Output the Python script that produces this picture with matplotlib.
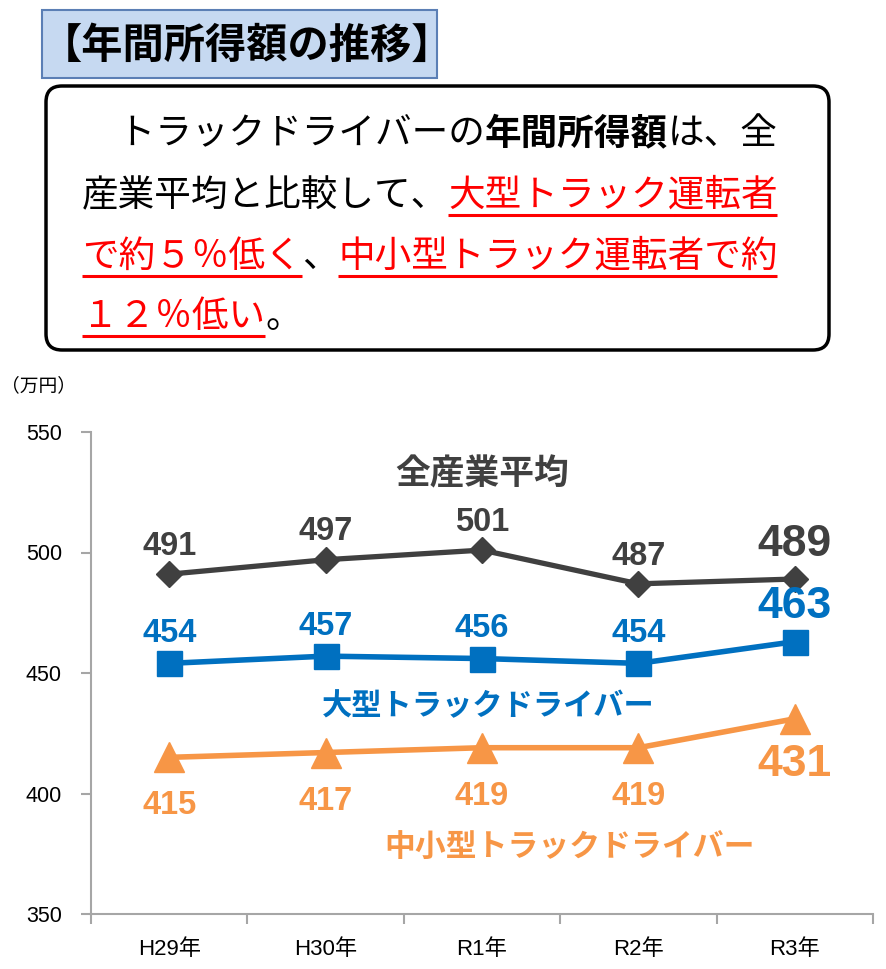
import matplotlib
matplotlib.use('Agg')
import matplotlib.pyplot as plt
from matplotlib.patches import FancyBboxPatch, Rectangle

# ---------------- data ----------------
years = ['H29年', 'H30年', 'R1年', 'R2年', 'R3年']
all_industry = [491, 497, 501, 487, 489]
large_truck = [454, 457, 456, 454, 463]
small_truck = [415, 417, 419, 419, 431]
series_names = ['全産業平均', '大型トラックドライバー', '中小型トラックドライバー']
yticks = [350, 400, 450, 500, 550]
unit_label = '（万円）'
title = '【年間所得額の推移】'
# message lines: (text, bold, red underlined)
message = [
    [('　トラックドライバーの', False, False), ('年間所得額', True, False), ('は、全', False, False)],
    [('産業平均と比較して、', False, False), ('大型トラック運転者', False, True)],
    [('で約５％低く', False, True), ('、', False, False), ('中小型トラック運転者で約', False, True)],
    [('１２％低い', False, True), ('。', False, False)],
]

# ---------------- style ----------------
JP = ['Noto Sans CJK JP', 'DejaVu Sans']
NUM = ['Liberation Sans', 'Noto Sans CJK JP', 'DejaVu Sans']
GREY = '#404040'
BLUE = '#0070C0'
ORANGE = '#F79646'
AXIS = '#A6A6A6'

W, H = 886, 969
fig = plt.figure(figsize=(W / 100, H / 100), dpi=100)

# overlay in pixel coordinates for the boxes
ov = fig.add_axes([0, 0, 1, 1])
ov.set_xlim(0, W)
ov.set_ylim(H, 0)
ov.axis('off')

ov.add_patch(Rectangle((42, 10), 395, 68, facecolor='#C6D9F1', edgecolor='#5B7FB5', lw=1.5))
ov.text(40.5, 46, title, fontsize=29.7, fontweight='bold', family=JP, va='center', ha='left')

ov.add_patch(FancyBboxPatch((46, 86), 783, 264, boxstyle='round,pad=0,rounding_size=16',
                            facecolor='white', edgecolor='black', lw=2.5))

cw = 36.6
fs = cw * 72 / 100
line_y = [130, 192, 253, 313]
for segs, yc in zip(message, line_y):
    x = 82
    for txt, bold, red in segs:
        ov.text(x, yc + 14, txt, fontsize=fs, family=JP, fontweight='bold' if bold else 'normal',
                color='#FF0000' if red else 'black', ha='left', va='baseline')
        n = len(txt)
        if red:
            ov.plot([x, x + n * cw], [yc + 23, yc + 23], color='#FF0000', lw=2.2, solid_capstyle='butt')
        x += n * cw

ov.text(1, 386, unit_label, fontsize=13.5, family=JP, va='center', ha='left')

# ---------------- chart ----------------
ax = fig.add_axes([91 / W, 1 - 914 / H, (873 - 91) / W, (914 - 432) / H])
ax.set_facecolor('none')
xs = list(range(len(years)))

ax.plot(xs, all_industry, color=GREY, lw=3.8, marker='D', ms=13, zorder=3)
ax.plot(xs, large_truck, color=BLUE, lw=4.0, marker='s', ms=18, zorder=3)
ax.plot(xs, small_truck, color=ORANGE, lw=4.0, marker='^', ms=21, zorder=3)

last = len(xs) - 1
for i, v in enumerate(all_industry):
    big = i == last
    ax.annotate(str(v), (i, v), xytext=(0, 25 if big else 20), textcoords='offset points',
                ha='center', va='center', fontsize=32 if big else 23.5, fontweight='bold',
                family=NUM, color=GREY)
for i, v in enumerate(large_truck):
    big = i == last
    ax.annotate(str(v), (i, v), xytext=(0, 25 if big else 21.5), textcoords='offset points',
                ha='center', va='center', fontsize=32 if big else 23.5, fontweight='bold',
                family=NUM, color=BLUE)
for i, v in enumerate(small_truck):
    big = i == last
    ax.annotate(str(v), (i, v), xytext=(0, -33 if big else -35), textcoords='offset points',
                ha='center', va='center', fontsize=32 if big else 23.5, fontweight='bold',
                family=NUM, color=ORANGE)

ax.text(2.0, 532.5, series_names[0], fontsize=25, fontweight='bold', family=JP,
        color=GREY, ha='center', va='center')
ax.text(2.04, 436.3, series_names[1], fontsize=21.8, fontweight='bold', family=JP,
        color=BLUE, ha='center', va='center')
ax.text(2.56, 377.4, series_names[2], fontsize=22.2, fontweight='bold', family=JP,
        color=ORANGE, ha='center', va='center')

ax.set_xlim(-0.5, len(xs) - 0.5)
ax.set_ylim(350, 550)
ax.set_yticks(yticks)
ax.set_yticklabels([str(t) for t in yticks], family=NUM, fontsize=15.5)
ax.set_xticks(xs)
ax.set_xticklabels(years, family=NUM, fontsize=16)
ax.set_xticks([i - 0.5 for i in range(len(xs) + 1)], minor=True)
ax.tick_params(axis='x', which='major', length=0, pad=18)
ax.tick_params(axis='x', which='minor', length=7, width=1.5, color=AXIS)
ax.tick_params(axis='y', length=7, width=1.5, color=AXIS, pad=14)
for s in ['top', 'right']:
    ax.spines[s].set_visible(False)
for s in ['left', 'bottom']:
    ax.spines[s].set_color(AXIS)
    ax.spines[s].set_linewidth(1.5)

fig.savefig('out.png', dpi=100)
